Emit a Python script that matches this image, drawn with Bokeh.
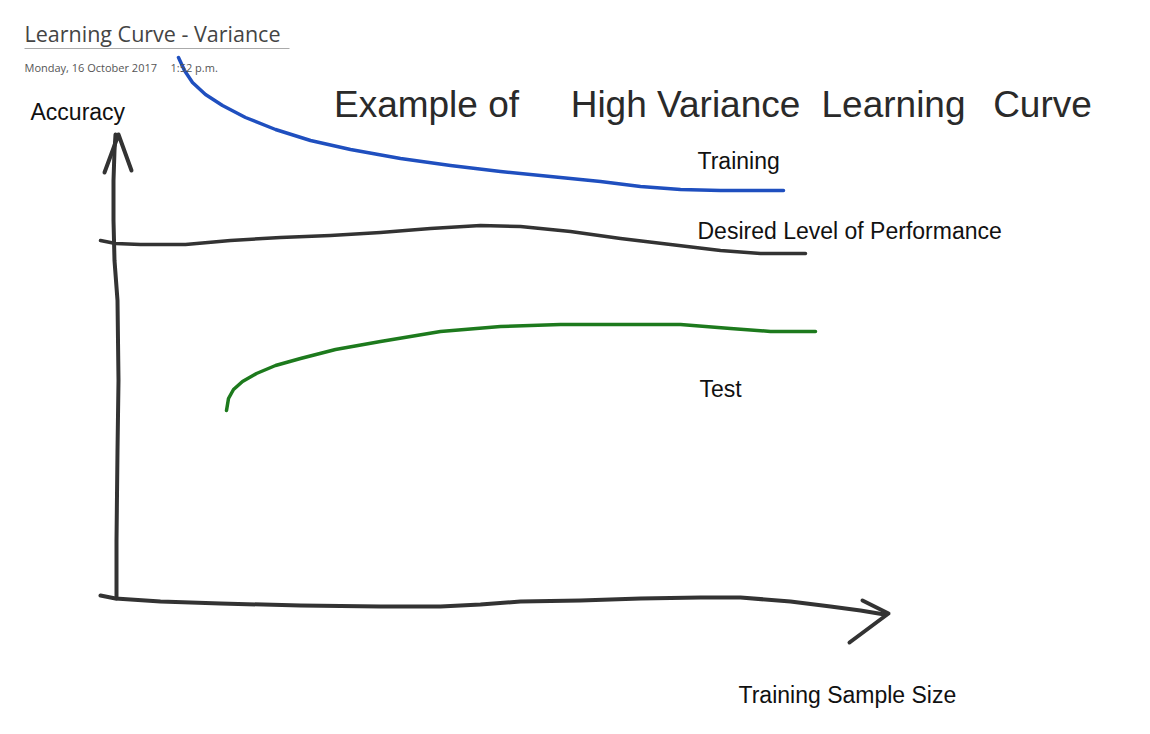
from bokeh.plotting import figure
from bokeh.models import Range1d
from bokeh.core.properties import value
from bokeh.embed import file_html
from bokeh.resources import INLINE

# --- sketch data (page coordinates of the hand-drawn strokes) ---
training_x = [178, 184, 192, 205, 222, 245, 275, 310, 350, 400, 450, 500, 550, 600, 640, 680, 720, 783]
training_y = [57, 70, 82, 94, 105, 117, 129, 140, 149, 158, 165, 171, 176, 181, 186, 189, 190, 190]

desired_x = [100, 115, 140, 185, 230, 280, 330, 380, 430, 480, 520, 570, 620, 670, 720, 760, 805]
desired_y = [240, 243, 244, 244, 240, 237, 235, 232, 228, 225, 226, 231, 238, 244, 250, 253, 253]

test_x = [226, 228, 233, 242, 256, 275, 300, 335, 380, 440, 500, 560, 620, 680, 730, 770, 815]
test_y = [410, 398, 389, 381, 373, 365, 358, 349, 341, 331, 326, 324, 324, 324, 328, 331, 331]

yaxis_x = [116, 116, 117, 118, 117, 114, 113, 113, 114, 115]
yaxis_y = [598, 540, 450, 380, 300, 260, 220, 180, 150, 134]
yarrow_x = [104, 118, 131]
yarrow_y = [172, 134, 170]

xaxis_x = [100, 115, 160, 220, 300, 380, 440, 480, 520, 580, 640, 700, 740, 790, 830, 860, 884]
xaxis_y = [595, 598, 601, 603, 605, 606, 606, 604, 601, 600, 598, 597, 597, 601, 606, 610, 614]
xarrow_x = [862, 888, 849]
xarrow_y = [600, 613, 642]

curve_labels = ["Training", "Desired Level of Performance", "Test"]
curve_label_x = [697, 697, 699]
curve_label_y = [160, 230, 388]

title_words = ["Example of", "High Variance", "Learning", "Curve"]
title_word_x = [426, 685, 893, 1042]

page_title = "Learning Curve - Variance"
page_date = "Monday, 16 October 2017"
page_time = "1:52 p.m."
y_label = "Accuracy"
x_label = "Training Sample Size"

W, H = 1150, 734
p = figure(width=W, height=H, output_backend="svg", toolbar_location=None,
           x_range=Range1d(0, W), y_range=Range1d(H, 0),
           min_border=0, outline_line_color=None, background_fill_color="white",
           border_fill_color="white")
p.axis.visible = False
p.grid.visible = False

ink = "#333333"
# axes strokes
p.line(yaxis_x, yaxis_y, line_color=ink, line_width=4, line_cap="round", line_join="round")
p.line(yarrow_x, yarrow_y, line_color=ink, line_width=4, line_cap="round", line_join="round")
p.line(xaxis_x, xaxis_y, line_color=ink, line_width=4, line_cap="round", line_join="round")
p.line(xarrow_x, xarrow_y, line_color=ink, line_width=4, line_cap="round", line_join="round")

# curves
p.line(training_x, training_y, line_color="#1f4fbf", line_width=3.5, line_cap="round", line_join="round")
p.line(desired_x, desired_y, line_color=ink, line_width=3.5, line_cap="round", line_join="round")
p.line(test_x, test_y, line_color="#1d7a1d", line_width=3.5, line_cap="round", line_join="round")

label_font = value("Liberation Sans")
# curve labels
p.text(curve_label_x, curve_label_y, text=curve_labels, text_font=label_font,
       text_font_size="23px", text_color="#111111", text_baseline="middle", text_align="left")

p.text([30], [111], text=[y_label], text_font=label_font,
       text_font_size="23px", text_color="#111111", text_baseline="middle", text_align="left")
p.text([738], [694], text=[x_label], text_font=label_font,
       text_font_size="23px", text_color="#111111", text_baseline="middle", text_align="left")

# page header
p.text([24], [33], text=[page_title], text_font=value("Open Sans"),
       text_font_size="21.5px", text_color="#444444", text_baseline="middle", text_align="left")
p.line([24, 289], [48, 48], line_color="#aaaaaa", line_width=1)
p.text([24, 170], [67, 67], text=[page_date, page_time], text_font=value("Open Sans"),
       text_font_size="11px", text_color="#555555", text_baseline="middle", text_align="left")

# handwritten title
p.text(title_word_x, [104] * len(title_words), text=title_words,
       text_font=label_font, text_font_size="37px",
       text_color="#2a2a2a", text_baseline="alphabetic", text_align="center")

open("out.html", "w").write(file_html(p, INLINE))
